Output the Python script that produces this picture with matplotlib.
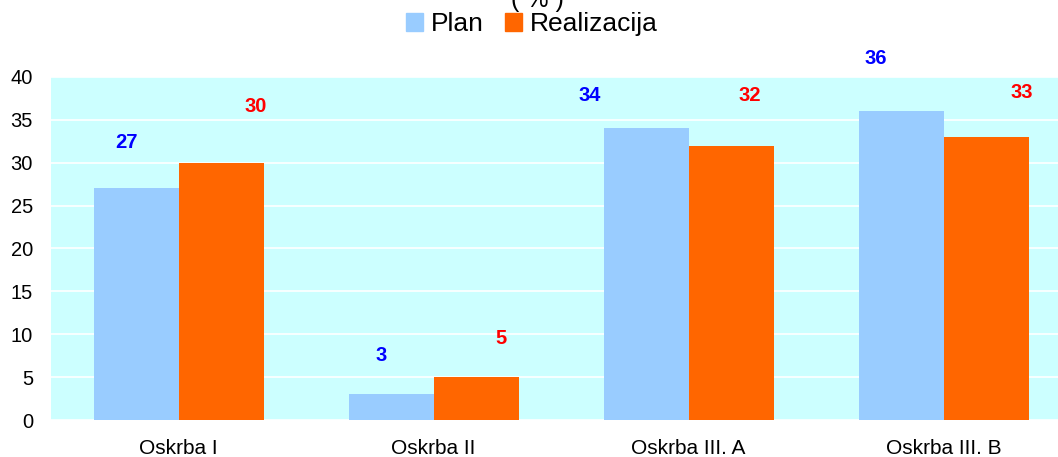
import matplotlib
matplotlib.use("Agg")
import matplotlib.pyplot as plt
import numpy as np
from matplotlib.patches import Patch

categories = ["Oskrba I", "Oskrba II", "Oskrba III. A", "Oskrba III. B"]
plan = [27, 3, 34, 36]
realizacija = [30, 5, 32, 33]
yticks = [0, 5, 10, 15, 20, 25, 30, 35, 40]

# label offsets in pixels (style only)
plan_off = [(-10, 46), (-10, 39), (-56, 33), (-25, 53)]
real_off = [(35, 56), (25, 39), (19, 50), (36, 45)]

plt.rcParams['font.family'] = ['Liberation Sans', 'DejaVu Sans']

W, H = 1058, 457
fig = plt.figure(figsize=(W / 100, H / 100), dpi=100)
ax = fig.add_axes([51 / W, (H - 420) / H, 1020 / W, 343 / H])
ax.set_facecolor('#CCFFFF')

x = np.arange(len(categories))
bw = 1 / 3
ax.bar(x - bw / 2, plan, width=bw, color='#99CCFF', zorder=3)
ax.bar(x + bw / 2, realizacija, width=bw, color='#FF6600', zorder=3)

for i, v in enumerate(plan):
    ax.annotate(str(v), (x[i] - bw / 2, v), xytext=plan_off[i], textcoords='offset pixels',
                ha='center', va='center', color='#0000FF', fontweight='bold', fontsize=14.5,
                annotation_clip=False, zorder=4)
for i, v in enumerate(realizacija):
    ax.annotate(str(v), (x[i] + bw / 2, v), xytext=real_off[i], textcoords='offset pixels',
                ha='center', va='center', color='#FF0000', fontweight='bold', fontsize=14.5,
                annotation_clip=False, zorder=4)

ax.set_xlim(-0.5, len(categories) - 0.5)
ax.set_ylim(0, 40)
ax.set_yticks(yticks)
ax.set_yticklabels([str(t) for t in yticks], fontsize=14.5)
ax.set_xticks(x)
ax.set_xticklabels(categories, fontsize=15)
ax.tick_params(axis='both', length=0)
ax.tick_params(axis='x', pad=14)
ax.tick_params(axis='y', pad=13)
ax.grid(axis='y', color='white', linewidth=1.2, zorder=1)
for s in ax.spines.values():
    s.set_visible(False)

fig.text(537 / W, 1 - 7 / H, "( % )", ha='center', va='baseline', fontsize=18)

handles = [Patch(color='#99CCFF', label='Plan'), Patch(color='#FF6600', label='Realizacija')]
fig.legend(handles=handles, loc='center', bbox_to_anchor=(532 / W, 1 - 24 / H), ncol=2,
           frameon=False, fontsize=19, handlelength=0.65, handleheight=0.65,
           handletextpad=0.3, columnspacing=0.8, borderaxespad=0, borderpad=0)

fig.savefig("out.png", dpi=100)
